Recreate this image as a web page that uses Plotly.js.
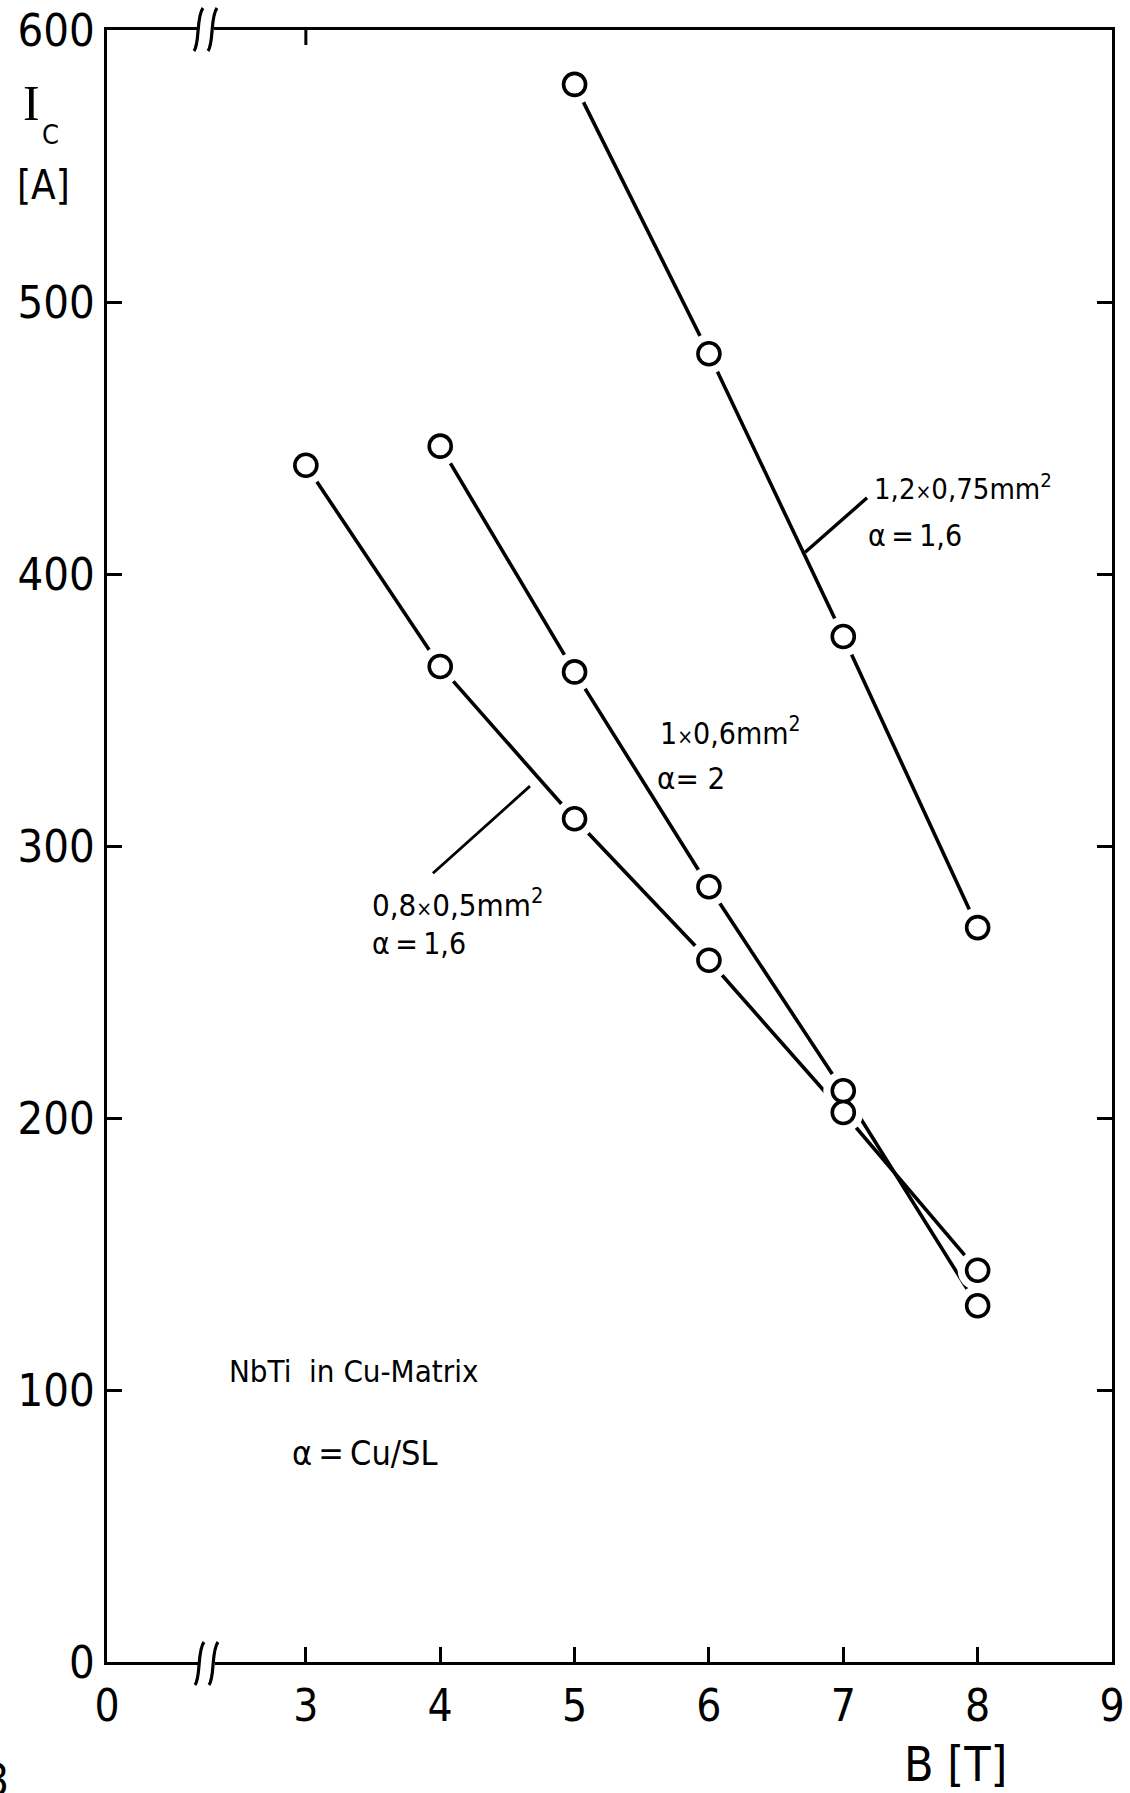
<!DOCTYPE html>
<html>
<head>
<meta charset="utf-8">
<script src="https://cdn.plot.ly/plotly-3.0.1.min.js"></script>
<style>
  html, body { margin: 0; padding: 0; background: #fff; }
  #chart { width: 1130px; height: 1793px; }
</style>
</head>
<body>
<div id="chart"></div>
<script>
// ---- data ----
var bField = [3, 4, 5, 6, 7, 8];                 // B [T]
var ic_12x075 = [null, null, 580, 481, 377, 270];  // 1,2 x 0,75 mm², alpha = 1,6
var ic_1x06   = [null, 447, 364, 285, 210, 131];   // 1 x 0,6 mm², alpha = 2
var ic_08x05  = [440, 366, 310, 258, 202, 144];    // 0,8 x 0,5 mm², alpha = 1,6

var xTickVals = [1.52, 3, 4, 5, 6, 7, 8, 9];
var xTickText = ['0', '3', '4', '5', '6', '7', '8', '9'];
var yTickVals = [0, 100, 200, 300, 400, 500, 600];
var yTickText = ['0', '100', '200', '300', '400', '500', '600'];

var FONT = '"DejaVu Sans Condensed", "Liberation Sans Narrow", sans-serif';
var SERIF = '"Liberation Serif", "DejaVu Serif", serif';

// plot area in pixels (for decorations)
var L = 107, R = 1112, T = 30, B = 1662;
function px(x) { return (x - L) / (R - L); }
function py(y) { return (B - y) / (B - T); }

var series = [ic_12x075, ic_1x06, ic_08x05];
var traces = [];
series.forEach(function (s) {
  traces.push({ x: bField, y: s, mode: 'lines', type: 'scatter', connectgaps: false,
    line: { color: '#000', width: 3.6 }, hoverinfo: 'skip', showlegend: false });
});
series.forEach(function (s) {
  traces.push({ x: bField, y: s, mode: 'markers', type: 'scatter',
    marker: { symbol: 'circle', size: 40, color: '#fff', line: { width: 0 } },
    hoverinfo: 'skip', showlegend: false });
});
series.forEach(function (s) {
  traces.push({ x: bField, y: s, mode: 'markers', type: 'scatter',
    marker: { symbol: 'circle', size: 22, color: '#fff', line: { color: '#000', width: 3.6 } },
    showlegend: false });
});

// axis-break decorations
function brk(cx, cy) {
  var out = [];
  out.push({ type: 'rect', xref: 'paper', yref: 'paper', layer: 'above',
    x0: px(cx - 7), x1: px(cx + 8), y0: py(cy + 4), y1: py(cy - 4),
    fillcolor: '#fff', line: { width: 0 } });
  [[-12, 0], [2, 0]].forEach(function (o) {
    var x = cx + o[0];
    var p = 'M ' + px(x) + ',' + py(cy + 22) +
            ' C ' + px(x + 6) + ',' + py(cy + 14) + ' ' + px(x + 2) + ',' + py(cy - 12) + ' ' + px(x + 9) + ',' + py(cy - 21);
    out.push({ type: 'path', xref: 'paper', yref: 'paper', layer: 'above', path: p,
      line: { color: '#000', width: 3.2 } });
  });
  return out;
}

var shapes = [];
shapes = shapes.concat(brk(207, 1663), brk(206, 29));
// top tick at B = 3
shapes.push({ type: 'line', xref: 'x', yref: 'paper', x0: 3, x1: 3, y0: 1, y1: py(T + 15),
  line: { color: '#000', width: 3 } });
// leader lines for labels
shapes.push({ type: 'line', xref: 'x', yref: 'y', x0: 6.716, y0: 408, x1: 7.177, y1: 428,
  line: { color: '#000', width: 3.4 } });
shapes.push({ type: 'line', xref: 'x', yref: 'y', x0: 3.946, y0: 290, x1: 4.668, y1: 322,
  line: { color: '#000', width: 2.8 } });

var X = '<span style="font-size:21px">×</span>';
var EQ = '\u2009=\u2009';

function txt(x, y, t, size, extra) {
  var a = { xref: 'x', yref: 'y', x: x, y: y, text: t, showarrow: false,
    xanchor: 'left', yanchor: 'middle', font: { family: FONT, size: size, color: '#000' } };
  if (extra) for (var k in extra) a[k] = extra[k];
  return a;
}

var annotations = [
  txt(7.214, 432, '1,2' + X + '0,75mm<sup>2</sup>', 29),
  txt(7.170, 414, 'α' + EQ + '1,6', 30),
  txt(5.621, 342, '1' + X + '0,6mm<sup>2</sup>', 30),
  txt(5.600, 325, 'α= 2', 31),
  txt(3.477, 279, '0,8' + X + '0,5mm<sup>2</sup>', 31),
  txt(3.477, 264, 'α' + EQ + '1,6', 30),
  txt(2.412, 107, 'NbTi  in Cu-Matrix', 31),
  txt(2.880, 77, 'α' + EQ + 'Cu/SL', 34),
  // axis titles
  { xref: 'paper', yref: 'paper', x: px(31), y: py(103), text: 'I', showarrow: false,
    xanchor: 'center', yanchor: 'middle', font: { family: SERIF, size: 50, color: '#000' } },
  { xref: 'paper', yref: 'paper', x: px(50), y: py(134), text: 'C', showarrow: false,
    xanchor: 'center', yanchor: 'middle', font: { family: FONT, size: 27, color: '#000' } },
  { xref: 'paper', yref: 'paper', x: px(43), y: py(185), text: '[A]', showarrow: false,
    xanchor: 'center', yanchor: 'middle', font: { family: FONT, size: 40, color: '#000' } },
  { xref: 'paper', yref: 'paper', x: px(955), y: py(1764), text: 'B [T]', showarrow: false,
    xanchor: 'center', yanchor: 'middle', font: { family: FONT, size: 48, color: '#000' } },
  // cut-off figure number at the page edge
  { xref: 'paper', yref: 'paper', x: px(11), y: py(1780), text: '3', showarrow: false,
    xanchor: 'right', yanchor: 'middle', font: { family: FONT, size: 44, color: '#000' } }
];

var layout = {
  width: 1130, height: 1793,
  margin: { l: L, r: 1130 - R, t: T, b: 1793 - B, pad: 0 },
  paper_bgcolor: '#fff', plot_bgcolor: '#fff',
  showlegend: false,
  font: { family: FONT, color: '#000' },
  xaxis: {
    range: [1.52, 9], tickmode: 'array', tickvals: xTickVals, ticktext: xTickText,
    showgrid: false, zeroline: false, showline: true, linecolor: '#000', linewidth: 3.2,
    mirror: true, ticks: 'inside', ticklen: 15, tickwidth: 3, tickcolor: '#000',
    tickfont: { family: FONT, size: 44, color: '#000' }, ticklabelstandoff: 3
  },
  yaxis: {
    range: [0, 600], tickmode: 'array', tickvals: yTickVals, ticktext: yTickText,
    showgrid: false, zeroline: false, showline: true, linecolor: '#000', linewidth: 3.2,
    mirror: 'ticks', ticks: 'inside', ticklen: 15, tickwidth: 3, tickcolor: '#000',
    tickfont: { family: FONT, size: 45, color: '#000' }, ticklabelstandoff: 0
  },
  shapes: shapes,
  annotations: annotations
};

Plotly.newPlot('chart', traces, layout, { displayModeBar: false, staticPlot: true });
</script>
</body>
</html>
